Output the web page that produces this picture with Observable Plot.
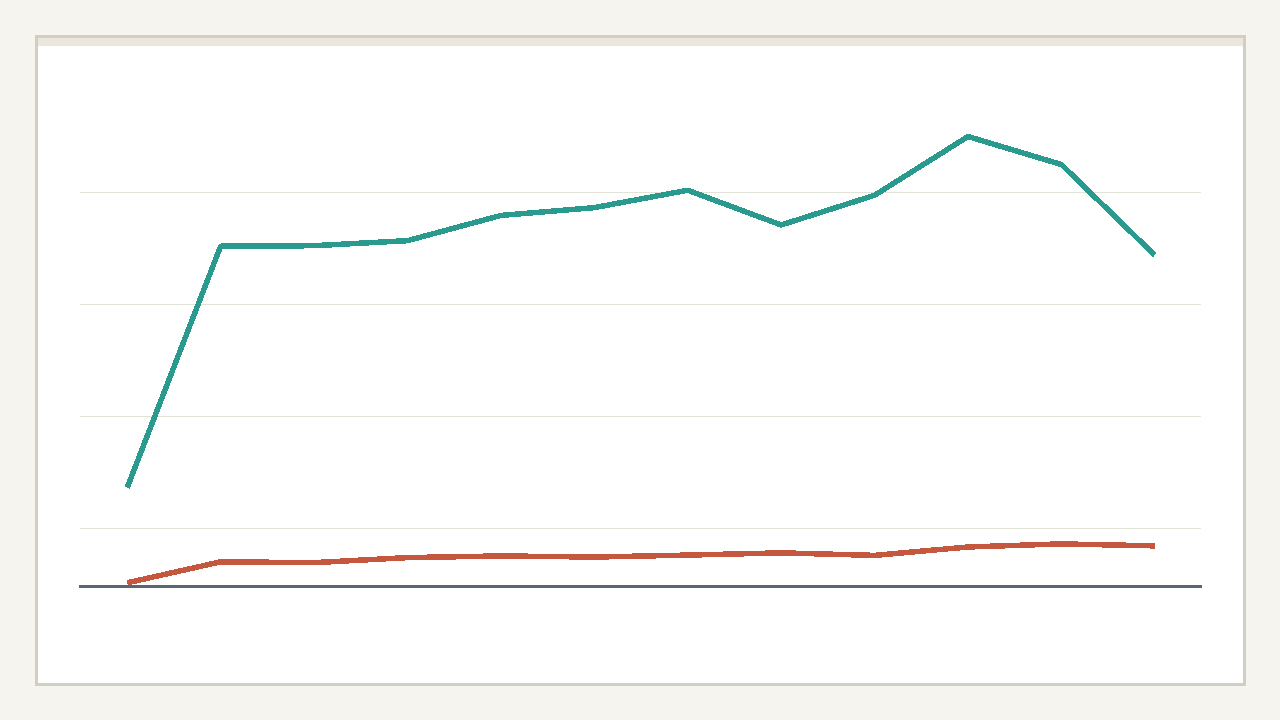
<!DOCTYPE html>
<html>
<head>
<meta charset="utf-8">
<script src="https://cdn.jsdelivr.net/npm/d3@7"></script>
<script src="https://cdn.jsdelivr.net/npm/@observablehq/plot@0.6"></script>
<style>
  html, body { margin: 0; padding: 0; width: 1280px; height: 720px; background: #f5f4ef; overflow: hidden; font-family: "Noto Sans", sans-serif; }
  #card { position: absolute; left: 35px; top: 35px; width: 1205px; height: 645px; border: 3px solid #d3cec3; background: #ffffff; }
  #strip { position: absolute; left: 0; top: 0; right: 0; height: 8px; background: #ebe7de; }
  #chart { position: absolute; left: 0; top: 0; }
</style>
</head>
<body>
<div id="card"><div id="strip"></div></div>
<div id="chart"></div>
<script>
const periods = ["P1","P2","P3","P4","P5","P6","P7","P8","P9","P10","P11","P12"];
const seriesA = [17.3, 60.4, 60.5, 61.4, 65.9, 67.3, 70.4, 64.2, 69.5, 80.0, 75.0, 58.8];
const seriesB = [0.3, 4.05, 3.9, 4.8, 5.1, 4.9, 5.25, 5.65, 5.2, 6.7, 7.25, 6.9];
const gridTicks = [10, 30, 50, 70];
const yDomain = [0, 80];

const rows = [
  ...periods.map((p, i) => ({period: p, value: seriesA[i], series: "A"})),
  ...periods.map((p, i) => ({period: p, value: seriesB[i], series: "B"}))
];

const chart = Plot.plot({
  width: 1280,
  height: 720,
  marginLeft: 80,
  marginRight: 79,
  marginTop: 136,
  marginBottom: 136,
  style: {background: "transparent"},
  x: {type: "point", domain: periods, padding: 0.5, round: false, axis: null},
  y: {domain: yDomain, axis: null},
  color: {domain: ["A", "B"], range: ["#2a9a8f", "#c4573e"]},
  marks: [
    Plot.gridY(gridTicks, {stroke: "#e3e2d7", strokeOpacity: 1, strokeWidth: 1}),
    Plot.ruleY([0], {stroke: "#5a6575", strokeWidth: 3, dy: 2, insetLeft: -1, insetRight: -1}),
    Plot.line(rows, {x: "period", y: "value", z: "series", stroke: "series", strokeWidth: 5.5, strokeLinecap: "butt", strokeLinejoin: "miter", shapeRendering: "crispEdges"})
  ]
});
document.getElementById("chart").appendChild(chart);
</script>
</body>
</html>
